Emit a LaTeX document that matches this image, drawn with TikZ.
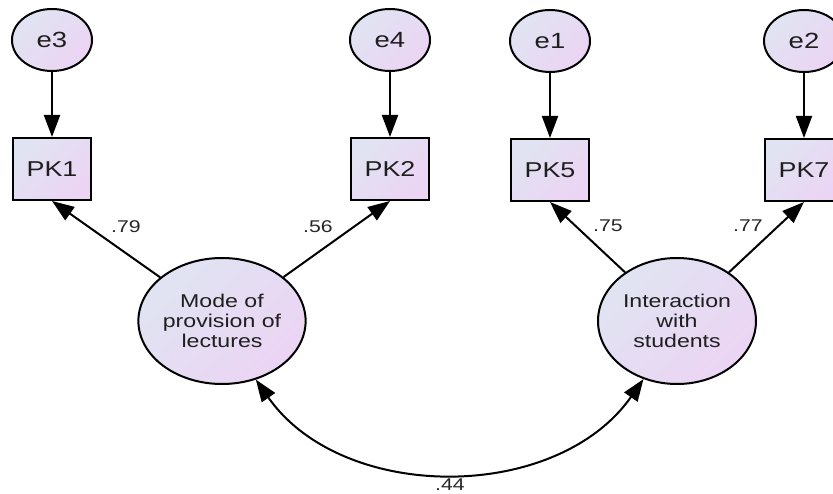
\documentclass[tikz,border=0pt]{standalone}
\usepackage{fontspec}
\setmainfont{Liberation Sans}[FakeStretch=1.25]
\usetikzlibrary{arrows.meta, positioning, shapes.geometric}
\definecolor{amos-blue}{RGB}{224,228,242}
\definecolor{amos-lilac}{RGB}{236,212,244}

\begin{document}
\begin{tikzpicture}[
    x=1pt, y=1pt,
    node distance=65pt,
    shaded/.style={top color=amos-blue, bottom color=amos-lilac, shading angle=45, draw=black, line width=2pt, text=black!88},
    obs/.style={shaded, rectangle, minimum width=78pt, minimum height=62pt, inner sep=0pt, font=\fontsize{21.5}{24}\selectfont},
    err/.style={shaded, ellipse, minimum width=80pt, minimum height=62pt, inner sep=0pt, font=\fontsize{22}{24}\selectfont},
    latent/.style={shaded, ellipse, minimum width=158pt, minimum height=126pt, inner sep=0pt, align=center, font=\fontsize{18.5}{20}\selectfont},
    coef/.style={font=\fontsize{17}{18}\selectfont, text=black!85},
    arrow/.style={-{Triangle[length=22pt, width=16pt]}, line width=2pt},
    dblarrow/.style={{Triangle[length=22pt, width=16pt]}-{Triangle[length=22pt, width=16pt]}, line width=2pt}
]
\useasboundingbox (0,0) rectangle (833,493);

% Indicadores
\node[obs] (pk1) at (52,324) {PK1};
\node[obs] (pk2) at (390,324) {PK2};
\node[obs] (pk5) at (550,323) {PK5};
\node[obs] (pk7) at (804,323) {PK7};

% Erros
\node[err, above=of pk1] (e3) {e3};
\node[err, above=of pk2] (e4) {e4};
\node[err, above=of pk5] (e1) {e1};
\node[err, above=of pk7] (e2) {e2};

% Fatores
\node[latent] (mode) at (222,172) {Mode of\\provision of\\lectures};
\node[latent] (inter) at (677,172) {Interaction\\with\\students};

% Setas
\draw[arrow] (e3) -- (pk1);
\draw[arrow] (e4) -- (pk2);
\draw[arrow] (e1) -- (pk5);
\draw[arrow] (e2) -- (pk7);
\draw[arrow] (mode) -- (pk1.south);
\draw[arrow] (mode) -- (pk2.south);
\draw[arrow] (inter) -- (pk5.south);
\draw[arrow] (inter) -- (pk7.south);
\draw[dblarrow] (mode.-60) to[out=-55, in=-125] (inter.-120);

% Cargas
\node[coef] (l79) at (126,266) {.79};
\node[coef] (l56) at (318,266) {.56};
\node[coef] (l75) at (608,267) {.75};
\node[coef] (l77) at (748,267) {.77};
\node[coef] (l44) at (450,8) {.44};

\end{tikzpicture}
\end{document}
